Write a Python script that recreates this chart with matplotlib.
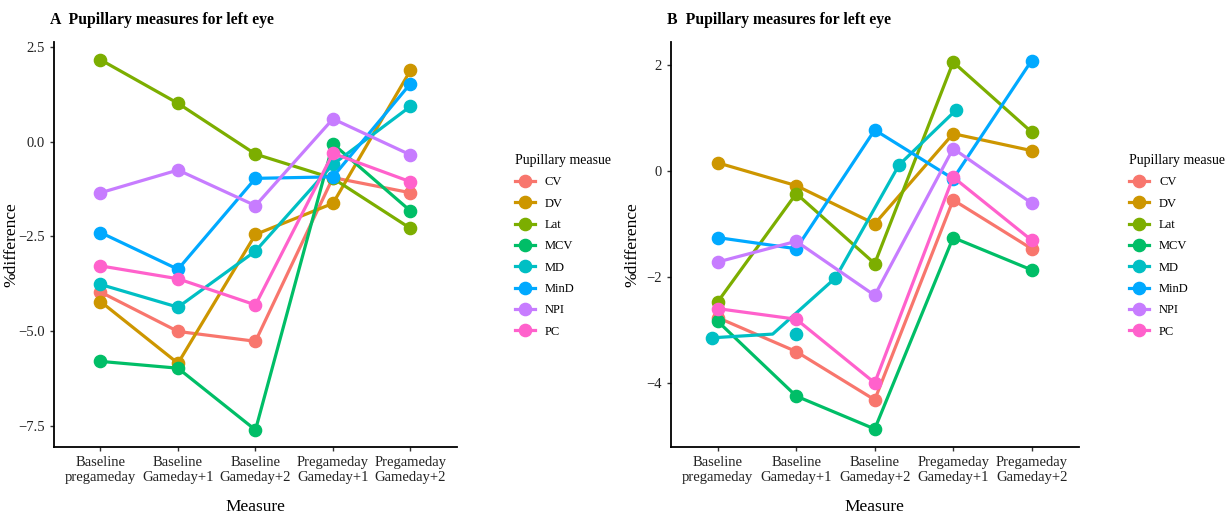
import numpy as np
import matplotlib
matplotlib.use('Agg')
import matplotlib.pyplot as plt
from matplotlib.lines import Line2D

plt.rcParams['font.family'] = ['Liberation Serif', 'DejaVu Serif']

categories = ['Baseline\npregameday', 'Baseline\nGameday+1', 'Baseline\nGameday+2',
              'Pregameday\nGameday+1', 'Pregameday\nGameday+2']
measures = ['CV', 'DV', 'Lat', 'MCV', 'MD', 'MinD', 'NPI', 'PC']
colors = ['#F8766D', '#CD9600', '#7CAE00', '#00BE67', '#00BFC4', '#00A9FF', '#C77CFF', '#FF61CC']

# panel A values (% difference)
a_vals = {
    'CV':   [-3.97, -5.01, -5.27, -0.95, -1.35],
    'DV':   [-4.22, -5.85, -2.45, -1.63, 1.88],
    'Lat':  [2.16, 1.01, -0.33, -0.97, -2.29],
    'MCV':  [-5.80, -5.98, -7.61, -0.06, -1.83],
    'MD':   [-3.77, -4.37, -2.89, -0.60, 0.93],
    'MinD': [-2.40, -3.37, -0.97, -0.93, 1.53],
    'NPI':  [-1.35, -0.75, -1.69, 0.60, -0.35],
    'PC':   [-3.28, -3.62, -4.31, -0.31, -1.06],
}

# panel B values
b_vals = {
    'CV':   [-2.77, -3.41, -4.32, -0.55, -1.47],
    'DV':   [0.15, -0.28, -1.00, 0.70, 0.38],
    'Lat':  [-2.47, -0.43, -1.75, 2.05, 0.73],
    'MCV':  [-2.84, -4.25, -4.87, -1.26, -1.87],
    'MD':   [-3.15, -3.08, -2.02, 0.11, 1.15],
    'MinD': [-1.26, -1.47, 0.77, -0.15, 2.08],
    'NPI':  [-1.72, -1.33, -2.35, 0.42, -0.61],
    'PC':   [-2.60, -2.80, -4.00, -0.12, -1.31],
}
# MD in panel B is drawn off the category grid in the original
b_md_line_x = [-0.07, 0.70, 1.50, 2.31, 3.04]
b_md_point_x = [-0.07, 1.00, 1.50, 2.31, 3.04]

a_yticks = [2.5, 0.0, -2.5, -5.0, -7.5]
a_yticklabels = ['2.5', '0.0', '\u22122.5', '\u22125.0', '\u22127.5']
b_yticks = [2, 0, -2, -4]
b_yticklabels = ['2', '0', '\u22122', '\u22124']

fig = plt.figure(figsize=(12.3, 5.16), dpi=100)
axA = fig.add_axes([0.0439, 0.1337, 0.3276, 0.785])
axB = fig.add_axes([0.5453, 0.1337, 0.3317, 0.785])

lw = 2.3
ms = 8.8

def style(ax, yticks, yticklabels, ylim, title, ylab_x):
    ax.set_xlim(-0.6, 4.6)
    ax.set_ylim(*ylim)
    ax.set_xticks(range(len(categories)))
    ax.set_xticklabels(categories, fontsize=10.5, color='#222222')
    ax.set_yticks(yticks)
    ax.set_yticklabels(yticklabels, fontsize=10.5, color='#222222')
    ax.spines['top'].set_visible(False)
    ax.spines['right'].set_visible(False)
    ax.spines['left'].set_linewidth(1.3)
    ax.spines['bottom'].set_linewidth(1.3)
    ax.tick_params(length=3, width=1, color='#333333')
    ax.set_xlabel('Measure', fontsize=12.5, labelpad=11)
    ax.set_ylabel('%difference', fontsize=12.5)
    ax.yaxis.set_label_coords(ylab_x, 0.5)
    ax.text(-0.01, 1.045, title, transform=ax.transAxes, fontsize=11.3,
            fontweight='bold', ha='left', va='baseline')

x = np.arange(len(categories))
for m, c in zip(measures, colors):
    axA.plot(x, a_vals[m], '-o', color=c, lw=lw, ms=ms)
    if m == 'MD':
        axB.plot(b_md_line_x, b_vals[m], '-', color=c, lw=lw)
        axB.plot(b_md_point_x, b_vals[m], 'o', color=c, ms=ms)
    else:
        axB.plot(x, b_vals[m], '-o', color=c, lw=lw, ms=ms)

style(axA, a_yticks, a_yticklabels, (-8.06, 2.63), 'A  Pupillary measures for left eye', -0.085)
style(axB, b_yticks, b_yticklabels, (-5.21, 2.43), 'B  Pupillary measures for left eye', -0.075)

handles = [Line2D([0], [0], color=c, lw=lw, marker='o', ms=ms) for c in colors]
for ax, xpos in [(axA, 0.4185), (axB, 0.918)]:
    fig.legend(handles, measures, loc='upper left', bbox_to_anchor=(xpos, 0.702),
               frameon=False, title='Pupillary measue', title_fontsize=10,
               fontsize=9, handlelength=1.6, labelspacing=0.75, alignment='left',
               borderaxespad=0, borderpad=0)

fig.savefig('out.png', dpi=100)
